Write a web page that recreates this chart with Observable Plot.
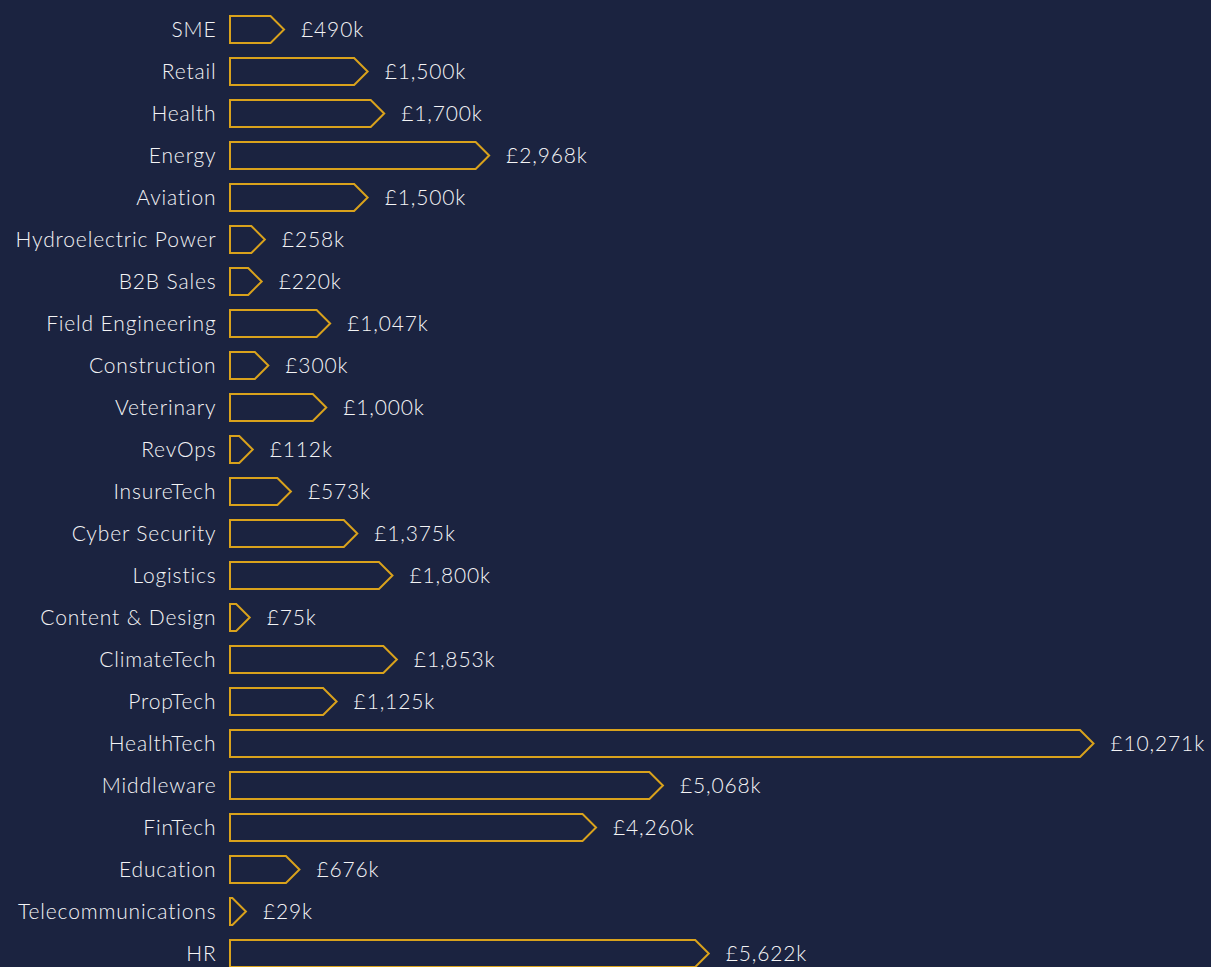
<!DOCTYPE html>
<html>
<head>
<meta charset="utf-8">
<script src="https://cdn.jsdelivr.net/npm/d3@7"></script>
<script src="https://cdn.jsdelivr.net/npm/@observablehq/plot@0.6"></script>
<style>
  html, body { margin: 0; padding: 0; background: #1b2340; }
  #chart svg { display: block; background: #1b2340; }
  #chart svg text { letter-spacing: 0.85px; font-weight: 300; }
</style>
</head>
<body>
<div id="chart"></div>
<script>
const categories = ["SME", "Retail", "Health", "Energy", "Aviation", "Hydroelectric Power", "B2B Sales",
  "Field Engineering", "Construction", "Veterinary", "RevOps", "InsureTech", "Cyber Security", "Logistics",
  "Content & Design", "ClimateTech", "PropTech", "HealthTech", "Middleware", "FinTech", "Education",
  "Telecommunications", "HR"];
const values = [490, 1500, 1700, 2968, 1500, 258, 220, 1047, 300, 1000, 112, 573, 1375, 1800,
  75, 1853, 1125, 10271, 5068, 4260, 676, 29, 5622];

const data = categories.map((c, i) => ({cat: c, value: values[i]}));

const BG = "#1b2340";
const GOLD = "#d9a21c";
const TEXT = "#f4f4f6";
const FONT = "Lato, 'Open Sans', sans-serif";

function arrowRender(index, scales, channels, dimensions, context) {
  const g = d3.create("svg:g");
  const bw = scales.y.bandwidth();
  const tip = bw / 2;
  const x0 = scales.x(0);
  for (const i of index) {
    const d = data[i];
    const yt = scales.y(d.cat);
    const yb = yt + bw;
    const ym = yt + bw / 2;
    const xe = Math.max(x0, scales.x(d.value));
    const pts = [[x0, yt], [xe, yt], [xe + tip, ym], [xe, yb], [x0, yb]];
    g.append("path")
      .attr("d", "M" + pts.map(p => p.join(",")).join("L") + "Z")
      .attr("fill", "none")
      .attr("stroke", GOLD)
      .attr("stroke-width", 2)
      .attr("stroke-linejoin", "miter");
  }
  return g.node();
}

const chart = Plot.plot({
  width: 1211,
  height: 967,
  marginLeft: 230,
  marginRight: 0,
  marginTop: 0,
  marginBottom: 0,
  style: {background: BG, color: TEXT, fontFamily: FONT, fontSize: "21px"},
  x: {domain: [0, 10271], range: [230, 1080], axis: null},
  y: {domain: categories, range: [7.3, 975.6], paddingInner: 0.36, paddingOuter: 0.18, label: null},
  marks: [
    Plot.axisY({tickSize: 0, tickPadding: 14, fontSize: 21, fill: TEXT, label: null}),
    Plot.barX(data, {y: "cat", x: "value", render: arrowRender}),
    Plot.text(data, {
      y: "cat", x: "value",
      text: d => "£" + d3.format(",")(d.value) + "k",
      dx: 30, textAnchor: "start", fill: TEXT, fontSize: 21
    })
  ]
});
document.getElementById("chart").appendChild(chart);
</script>
</body>
</html>
